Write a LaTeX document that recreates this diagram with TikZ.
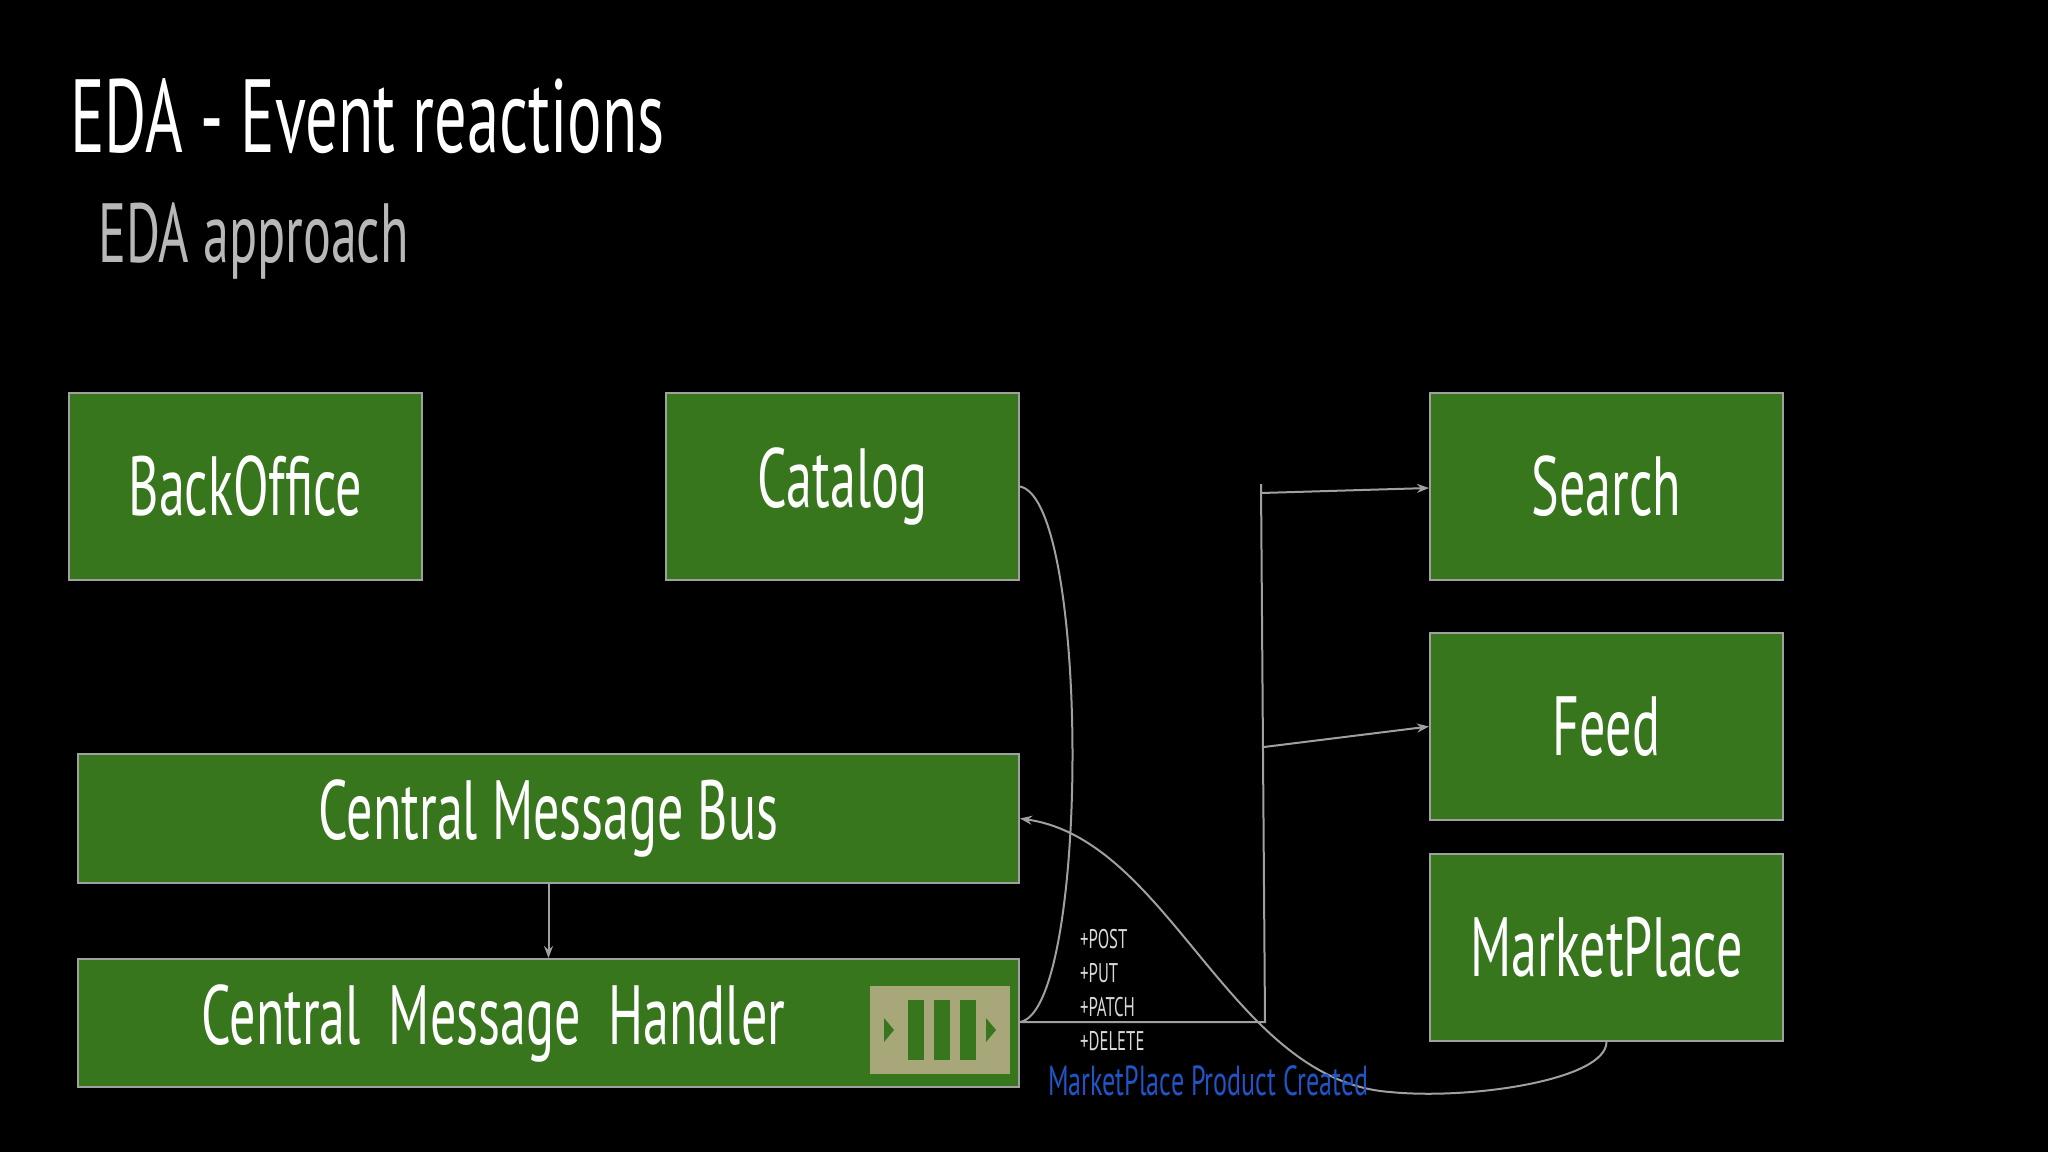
\documentclass[tikz,border=0pt]{standalone}
\usepackage{fontspec}
\setmainfont{PT Sans}[FakeStretch=0.62]
\usetikzlibrary{arrows.meta}
\definecolor{boxg}{HTML}{38761D}
\definecolor{edge}{HTML}{A0A0A0}
\definecolor{khaki}{HTML}{A8A77A}
\definecolor{evblue}{HTML}{1F55C8}
\begin{document}
\begin{tikzpicture}[x=1pt,y=-1pt,
  box/.style={draw=edge,line width=2pt,fill=boxg,text=white,inner sep=0pt,font=\fontsize{84}{90}\selectfont},
  con/.style={draw=edge,line width=2pt},
  arr/.style={con,-{Stealth[length=12pt,width=9pt]}},
  lab/.style={text=white!85!black,font=\fontsize{27}{30}\selectfont,anchor=west,inner sep=0pt}]
\fill[black] (0,0) rectangle (2048,1152);
\useasboundingbox (0,0) rectangle (2048,1152);
\node[anchor=base west,text=white,font=\fontsize{104}{110}\selectfont,inner sep=0pt] (title) at (70,152) {EDA - Event reactions};
\node[anchor=base west,text=white!72!black,font=\fontsize{84}{90}\selectfont,inner sep=0pt] (sub) at (98,262) {EDA approach};
\node[box,minimum width=353pt,minimum height=187pt] (bo) at (245.5,486.5) {BackOffice};
\node[box,minimum width=353pt,minimum height=187pt] (cat) at (842.5,486.5) {Catalog};
\node[box,minimum width=353pt,minimum height=187pt] (search) at (1606.5,486.5) {Search};
\node[box,minimum width=353pt,minimum height=187pt] (feed) at (1606.5,726.5) {Feed};
\node[box,minimum width=353pt,minimum height=187pt] (mp) at (1606.5,947.5) {MarketPlace};
\node[box,minimum width=941pt,minimum height=129pt] (bus) at (548.5,818.5) {Central Message Bus};
\node[box,minimum width=941pt,minimum height=128pt,text width=760pt,align=center] (cmh) at (548.5,1023) {\hspace*{-110pt}Central Message Handler};
% queue icon
\node[fill=khaki,minimum width=140pt,minimum height=88pt,inner sep=0pt] (q) at (940,1030) {};
\fill[boxg] (908,1000) rectangle (924,1060);
\fill[boxg] (934,1000) rectangle (950,1060);
\fill[boxg] (960,1000) rectangle (976,1060);
\fill[boxg] (884,1018) -- (894,1030) -- (884,1042) -- cycle;
\fill[boxg] (986,1018) -- (996,1030) -- (986,1042) -- cycle;
% connectors
\draw[arr] (bus.south) -- (cmh.north);
\coordinate (h1) at (1265,1022);
\coordinate (top) at (1261,484);
\coordinate (s1) at (1261,493);
\coordinate (f1) at (1264,747);
\draw[con] (cmh.east |- h1) -- (h1) -- (top);
\draw[arr] (s1) -- (search.west |- 488,488);
\draw[arr] (f1) -- (feed.west);
\draw[con] (cat.east) .. controls (1090,500) and (1090,1010) .. (cmh.east |- h1);
\draw[arr] (mp.south) .. controls (1606,1080) and (1470,1100) .. (1390,1092)
  .. controls (1230,1080) and (1170,840) .. (bus.east);
\node[lab] (l1) at (1080,939) {+POST};
\node[lab] (l2) at (1080,973) {+PUT};
\node[lab] (l3) at (1080,1007) {+PATCH};
\node[lab] (l4) at (1080,1041) {+DELETE};
\node[anchor=west,text=evblue,font=\fontsize{42}{46}\selectfont,inner sep=0pt] (ev) at (1048,1081) {MarketPlace Product Created};
\end{tikzpicture}
\end{document}
